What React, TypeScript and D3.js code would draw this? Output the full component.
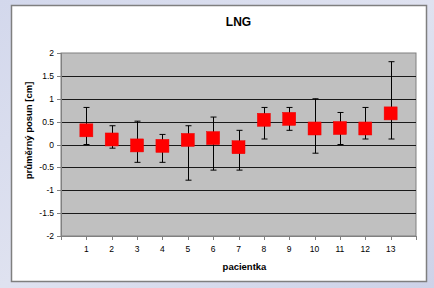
import React from "react";
import * as d3 from "d3";

const patients = [1, 2, 3, 4, 5, 6, 7, 8, 9, 10, 11, 12, 13];
const means = [0.31, 0.11, -0.02, -0.03, 0.1, 0.14, -0.06, 0.54, 0.56, 0.35, 0.36, 0.35, 0.68];
const upper = [0.81, 0.41, 0.51, 0.22, 0.41, 0.6, 0.31, 0.81, 0.81, 1.0, 0.7, 0.81, 1.81];
const lower = [0.0, -0.08, -0.39, -0.39, -0.78, -0.56, -0.56, 0.12, 0.31, -0.19, 0.0, 0.12, 0.12];
const yTicks = [2, 1.5, 1, 0.5, 0, -0.5, -1, -1.5, -2];
const title = "LNG";
const xLabel = "pacientka";
const yLabel = "průměrný posun [cm]";

export default function App() {
  const W = 434, H = 288;
  const left = 61, right = 416, top = 53, bottom = 236;
  const x = d3.scaleLinear().domain([0, 14]).range([left, right]);
  const y = d3.scaleLinear().domain([-2, 2]).range([bottom, top]);
  const font = "'Liberation Sans', Arial, sans-serif";
  const ms = 13;
  return (
    <svg width={W} height={H} style={{ position: "absolute", left: 0, top: 0 }}>
      <defs>
        <linearGradient id="bg" x1="0" y1="0" x2="1" y2="1">
          <stop offset="0" stopColor="#d3d8ec" />
          <stop offset="0.5" stopColor="#dfe2f0" />
          <stop offset="1" stopColor="#cdd2e8" />
        </linearGradient>
      </defs>
      <rect x={0} y={0} width={W} height={H} fill="url(#bg)" />
      <rect x={11.5} y={5.5} width={415} height={276} fill="#ffffff" stroke="#7f7f7f" strokeWidth={1.5} />
      <text x={(left + right) / 2} y={26} textAnchor="middle" fontFamily={font} fontSize={12} fontWeight="bold" fill="#000">{title}</text>
      <rect x={left} y={top} width={right - left} height={bottom - top} fill="#c0c0c0" stroke="#808080" strokeWidth={1} />
      {yTicks.filter(t => t !== 2 && t !== -2).map(t => (
        <line key={"g" + t} x1={left} x2={right} y1={Math.round(y(t)) + 0.5} y2={Math.round(y(t)) + 0.5} stroke="#1a1a1a" strokeWidth={1} />
      ))}
      <line x1={left + 0.5} x2={left + 0.5} y1={top} y2={bottom} stroke="#808080" />
      {yTicks.map(t => (
        <g key={"y" + t}>
          <line x1={left - 4} x2={left} y1={Math.round(y(t)) + 0.5} y2={Math.round(y(t)) + 0.5} stroke="#808080" />
          <text x={left - 7} y={y(t) + 3} textAnchor="end" fontFamily={font} fontSize={8.5} fill="#000">{t}</text>
        </g>
      ))}
      <line x1={left} x2={right} y1={bottom + 0.5} y2={bottom + 0.5} stroke="#808080" />
      {d3.range(0, 15).map(v => (
        <line key={"xt" + v} x1={Math.round(x(v)) + 0.5} x2={Math.round(x(v)) + 0.5} y1={bottom} y2={bottom + 4} stroke="#808080" />
      ))}
      {patients.map(p => (
        <text key={"xl" + p} x={x(p)} y={bottom + 16} textAnchor="middle" fontFamily={font} fontSize={8.5} fill="#000">{p}</text>
      ))}
      <text x={(left + right) / 2 + 6} y={bottom + 34} textAnchor="middle" fontFamily={font} fontSize={9.5} fontWeight="bold" fill="#000">{xLabel}</text>
      <text transform={`translate(32,${(top + bottom) / 2 - 14}) rotate(-90)`} textAnchor="middle" fontFamily={font} fontSize={9.5} fontWeight="bold" fill="#000">{yLabel}</text>
      {patients.map((p, i) => {
        const cx = Math.round(x(p)) + 0.5;
        return (
          <g key={"e" + p} stroke="#000" strokeWidth={1}>
            <line x1={cx} x2={cx} y1={y(upper[i])} y2={y(lower[i])} />
            <line x1={cx - 3} x2={cx + 3} y1={y(upper[i])} y2={y(upper[i])} />
            <line x1={cx - 3} x2={cx + 3} y1={y(lower[i])} y2={y(lower[i])} />
          </g>
        );
      })}
      {patients.map((p, i) => (
        <rect key={"m" + p} x={x(p) - ms / 2} y={y(means[i]) - ms / 2} width={ms} height={ms} fill="#ff0000" stroke="#ee0000" strokeWidth={0.5} />
      ))}
    </svg>
  );
}
